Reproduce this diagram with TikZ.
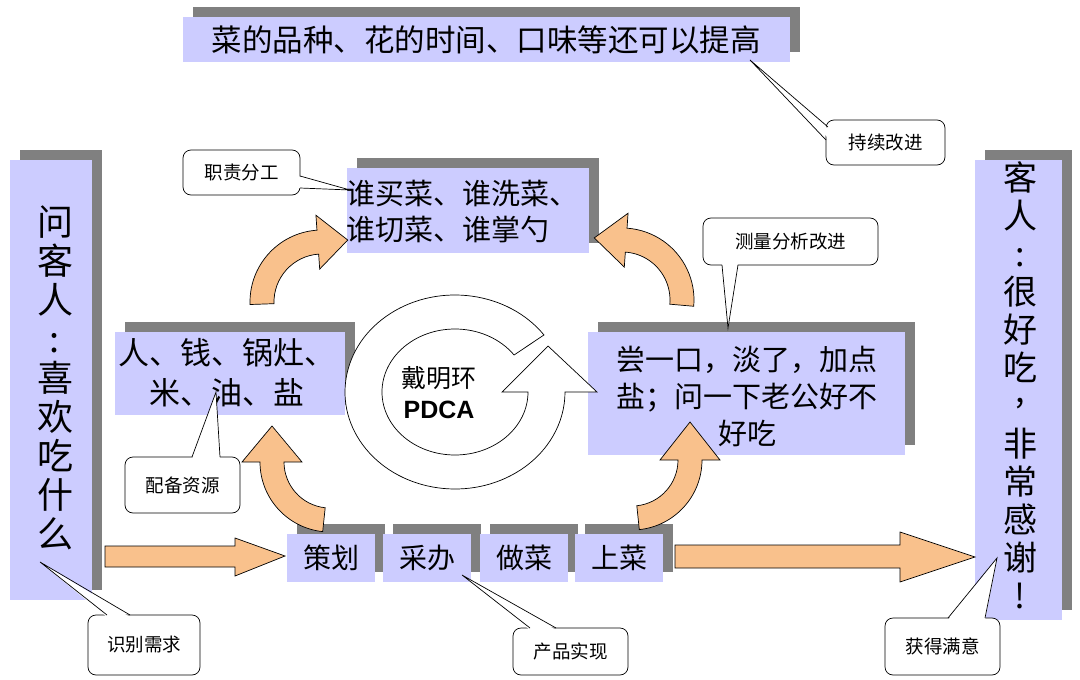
\documentclass[tikz,border=0pt]{standalone}
\usepackage{fontspec}
\setmainfont{Noto Sans CJK SC}
\newfontfamily\lsans{Liberation Sans}
\usetikzlibrary{calc}
\definecolor{lav}{HTML}{CCCCFF}
\definecolor{shd}{HTML}{808080}
\definecolor{peach}{HTML}{F9C18C}
\newcommand\carr[8]{%
 \pgfmathsetmacro\ro{#3+#4/2}\pgfmathsetmacro\ri{#3-#4/2}%
 \pgfmathsetmacro\hro{#3+#7}\pgfmathsetmacro\hri{#3-#7}%
 \pgfmathsetmacro\dirang{#6+90*sign(#6-#5)}%
 \filldraw[arr] ($(#1,#2)+(#5:\ro)$) arc[start angle=#5,end angle=#6,radius=\ro]
  -- ($(#1,#2)+(#6:\hro)$) -- ($(#1,#2)+(#6:#3)+(\dirang:#8)$)
  -- ($(#1,#2)+(#6:\hri)$) -- ($(#1,#2)+(#6:\ri)$)
  arc[start angle=#6,end angle=#5,radius=\ri] -- cycle;}
\newcommand\shbox[5]{% name x1 y1 x2 y2 (fill rect)
 \fill[shd] (#2+10,#3-10) rectangle (#4+10,#5-10);
 \fill[lav] (#2,#3) rectangle (#4,#5);
 \coordinate (#1) at ($(#2,#3)!0.5!(#4,#5)$);}
\tikzset{arr/.style={fill=peach,draw=black,line width=0.7pt,line join=miter},
 call/.style={draw=black,fill=white,rounded corners=8pt,line width=0.7pt},
 ctext/.style={font=\fontsize{18.5}{20}\selectfont}}
\newcommand\callout[6]{%
 \draw[call] (#2,#3) rectangle (#4,#5);
 \node[ctext] (#1) at ($(#2,#3)!0.5!(#4,#5)$) {#6};}
\begin{document}
\begin{tikzpicture}[x=1pt,y=-1pt]
\useasboundingbox (0,0) rectangle (1080,680);
% boxes
\shbox{top}{183}{17}{790}{62}
\node[font=\fontsize{30.5}{32}\selectfont] (ttop) at (486,40) {菜的品种、花的时间、口味等还可以提高};
\shbox{lft}{10}{160}{92}{600}
\node[font=\fontsize{36}{39}\selectfont,align=center] (tl) at (55,378) {问\\客\\人\\:\\喜\\欢\\吃\\什\\么};
\shbox{rgt}{975}{160}{1062}{620}
\node[font=\fontsize{34}{38}\selectfont,align=center] (tr) at (1020,385) {客\\人\\:\\很\\好\\吃\\\raisebox{0.45em}{,}\\非\\常\\感\\谢\\!};
\shbox{mt}{347}{168}{589}{253}
\node[font=\fontsize{29}{36}\selectfont,align=left,anchor=west] (tmt) at (343,211) {谁买菜、谁洗菜、\\谁切菜、谁掌勺};
\shbox{ml}{115}{332}{345}{415}
\node[font=\fontsize{31}{40}\selectfont,align=center] (tml) at (227,373) {人、钱、锅灶、\\米、油、盐};
\shbox{mr}{588}{332}{905}{455}
\node[font=\fontsize{29}{37}\selectfont,align=center] (tmr) at (747,396) {尝一口，淡了，加点\\盐；问一下老公好不\\好吃};
\shbox{b1}{287}{534}{375}{582}
\shbox{b2}{383}{534}{471}{582}
\shbox{b3}{480}{534}{568}{582}
\shbox{b4}{575}{534}{663}{582}
\foreach \n/\t in {b1/策划,b2/采办,b3/做菜,b4/上菜}
  \node[font=\fontsize{28}{30}\selectfont] (t\n) at (\n) {\t};
% straight arrows
\filldraw[arr] (105,546) -- (235,546) -- (235,538) -- (285,556) -- (235,576) -- (235,567) -- (105,567) -- cycle;
\filldraw[arr] (675,545) -- (900,545) -- (900,532) -- (975,557) -- (900,582) -- (900,568) -- (675,568) -- cycle;
% curved arrows
\carr{322}{302}{60}{24}{178}{266}{27}{30}
\carr{330}{462}{58}{24}{96}{180}{30}{36}
\carr{632}{460}{58}{24}{84}{0}{30}{38}
\carr{622}{300}{60}{24}{5}{-86}{27}{32}
% central ring
\coordinate (c) at (455,392);
\filldraw[draw=black,fill=white,line width=0.7pt] ($(c)+(-36:110 and 97)$) arc[start angle=-36,end angle=-360,x radius=110,y radius=97]
 -- (597,392) -- (548,346) -- (502,392) -- ($(c)+(0:73 and 63)$)
 arc[start angle=-360,end angle=-36,x radius=73,y radius=63] -- cycle;
\node[font=\fontsize{25}{28}\selectfont] (dm) at (439,378) {戴明环};
\node[font=\lsans\bfseries\fontsize{25}{28}\selectfont] (pdca) at (439,410) {PDCA};
% callouts
\callout{c1}{826}{120}{945}{165}{持续改进}
\fill[white] (826,126) -- (750,60) -- (832,142) -- cycle;
\draw[line width=0.7pt] (828,127) -- (750,60) -- (826,140);
\callout{c2}{183}{150}{300}{195}{职责分工}
\fill[white] (298,176) -- (350,190) -- (298,188) -- cycle;
\draw[line width=0.7pt] (300,176) -- (350,190) -- (300,188);
\callout{c3}{703}{218}{878}{265}{测量分析改进}
\fill[white] (722,263) -- (728,328) -- (738,263) -- cycle;
\draw[line width=0.7pt] (722,265) -- (728,328) -- (738,265);
\callout{c4}{125}{457}{240}{513}{配备资源}
\fill[white] (192,459) -- (216,392) -- (220,459) -- cycle;
\draw[line width=0.7pt] (192,457) -- (216,392) -- (220,457);
\callout{c5}{88}{615}{200}{675}{识别需求}
\fill[white] (107,617) -- (40,562) -- (130,617) -- cycle;
\draw[line width=0.7pt] (107,615) -- (40,562) -- (130,615);
\callout{c6}{513}{628}{628}{675}{产品实现}
\fill[white] (530,630) -- (462,575) -- (556,630) -- cycle;
\draw[line width=0.7pt] (530,628) -- (462,575) -- (556,628);
\callout{c7}{885}{618}{1000}{675}{获得满意}
\fill[white] (948,620) -- (997,558) -- (985,620) -- cycle;
\draw[line width=0.7pt] (948,618) -- (997,558) -- (985,618);
\end{tikzpicture}
\end{document}
